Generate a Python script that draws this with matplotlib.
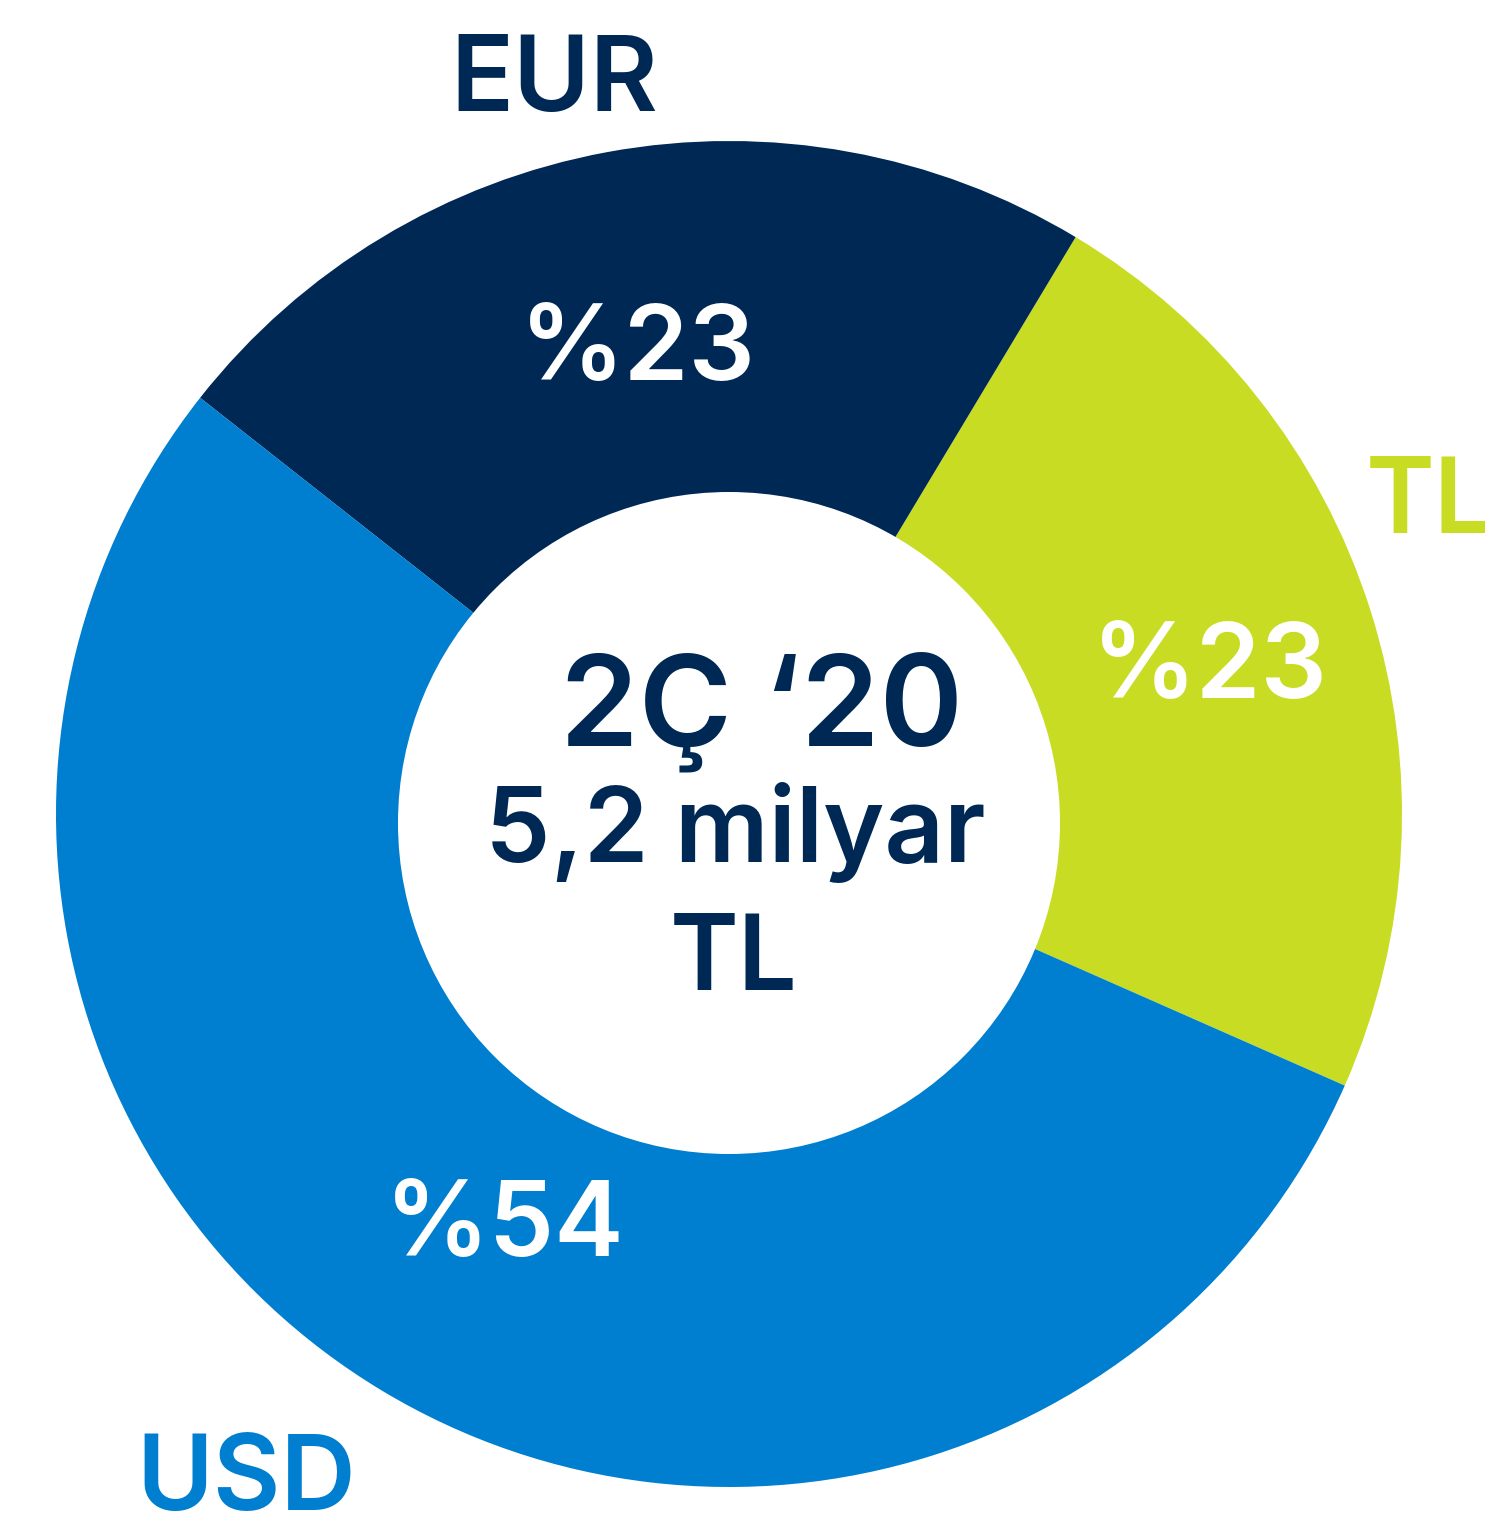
import matplotlib.pyplot as plt
from matplotlib.patches import Circle

# data
currencies = ["TL", "EUR", "USD"]
shares = [23, 23, 54]
colors = ["#C8DC23", "#002855", "#007ECF"]
center_lines = ["2Ç ‘20", "5,2 milyar", "TL"]

H = 1530
fig = plt.figure(figsize=(14.85, 15.3), dpi=100)
ax = fig.add_axes([0, 0, 1, 1])

ax.pie(shares, colors=colors, startangle=-23.8, counterclock=True,
       center=(729, H - 814), radius=673,
       wedgeprops=dict(linewidth=0))
# hole sits a little below the ring centre in the original
ax.add_patch(Circle((729, H - 823), 331, facecolor="white", edgecolor="none"))
ax.set_xlim(0, 1485)
ax.set_ylim(0, H)
ax.set_aspect("equal")
ax.axis("off")

font = "Inter"
wt = 600

# outside currency labels (x, baseline y in image px)
label_pos = {"TL": (1430, 533), "EUR": (554, 111), "USD": (246, 1510)}
for cur, col in zip(currencies, colors):
    x, y = label_pos[cur]
    ax.text(x, H - y, cur, color=col, fontsize=75, fontweight=wt,
            family=font, ha="center", va="baseline")

# percentages inside the ring
pct_pos = {"TL": (1210, 698), "EUR": (638, 380), "USD": (505, 1256)}
for cur, v in zip(currencies, shares):
    x, y = pct_pos[cur]
    ax.text(x, H - y, f"%{v}", color="white", fontsize=75, fontweight=wt,
            family=font, ha="center", va="baseline")

# centre text
ax.text(761, H - 745, center_lines[0], color="#002855", fontsize=91,
        fontweight=wt, family=font, ha="center", va="baseline")
ax.text(735, H - 862, center_lines[1], color="#002855", fontsize=75,
        fontweight=wt, family=font, ha="center", va="baseline")
ax.text(734, H - 990, center_lines[2], color="#002855", fontsize=75,
        fontweight=wt, family=font, ha="center", va="baseline")

fig.savefig("out.png", dpi=100, facecolor="white")
